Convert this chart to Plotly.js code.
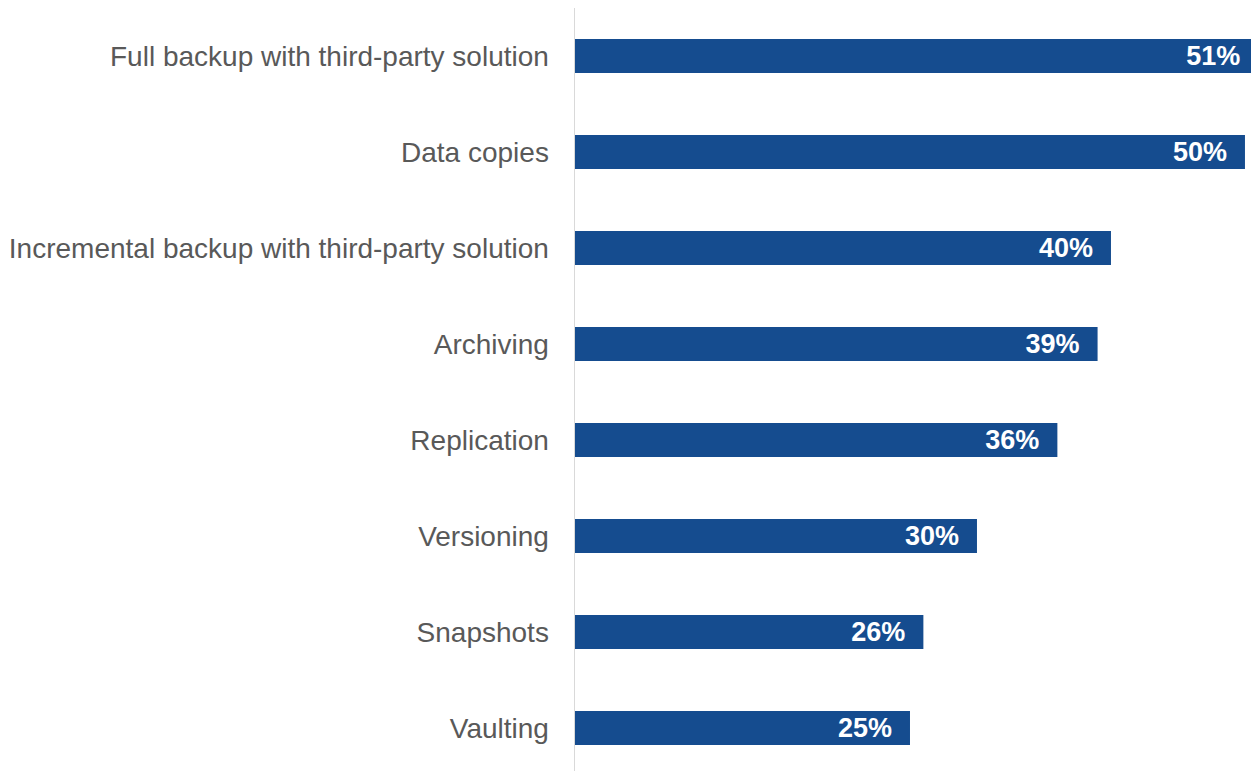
<!DOCTYPE html>
<html>
<head>
<meta charset="utf-8">
<script src="https://cdn.plot.ly/plotly-3.0.1.min.js"></script>
<style>html,body{margin:0;padding:0;background:#fff;}#chart{width:1251px;height:771px;}</style>
</head>
<body>
<div id="chart"></div>
<script>
const categories = [
  "Full backup with third-party solution",
  "Data copies",
  "Incremental backup with third-party solution",
  "Archiving",
  "Replication",
  "Versioning",
  "Snapshots",
  "Vaulting"
];
const values = [51, 50, 40, 39, 36, 30, 26, 25];

const trace = {
  type: 'bar',
  orientation: 'h',
  y: categories,
  x: values,
  marker: {color: '#154c8f'},
  text: values.map(v => v + '%\u00a0\u00a0'),
  textposition: 'inside',
  insidetextanchor: 'end',
  textangle: 0,
  constraintext: 'none',
  textfont: {family: 'Liberation Sans, Arial, sans-serif', size: 27, color: '#ffffff', weight: 'bold'},
  hoverinfo: 'none'
};

const layout = {
  width: 1251,
  height: 771,
  margin: {l: 575, r: 0, t: 8, b: 0, pad: 0},
  paper_bgcolor: '#ffffff',
  plot_bgcolor: '#ffffff',
  showlegend: false,
  bargap: 0.646,
  xaxis: {
    range: [0, 50.45],
    visible: false,
    showgrid: false,
    zeroline: false,
    fixedrange: true
  },
  yaxis: {
    type: 'category',
    categoryorder: 'array',
    categoryarray: categories,
    range: [7.448, -0.5],
    showline: true,
    linecolor: '#d9d9d9',
    linewidth: 1.5,
    showgrid: false,
    zeroline: false,
    ticks: '',
    ticklabelstandoff: 19,
    tickfont: {family: 'Liberation Sans, Arial, sans-serif', size: 28, color: '#595959'},
    fixedrange: true
  }
};

Plotly.newPlot('chart', [trace], layout, {displayModeBar: false, staticPlot: true});
</script>
</body>
</html>
